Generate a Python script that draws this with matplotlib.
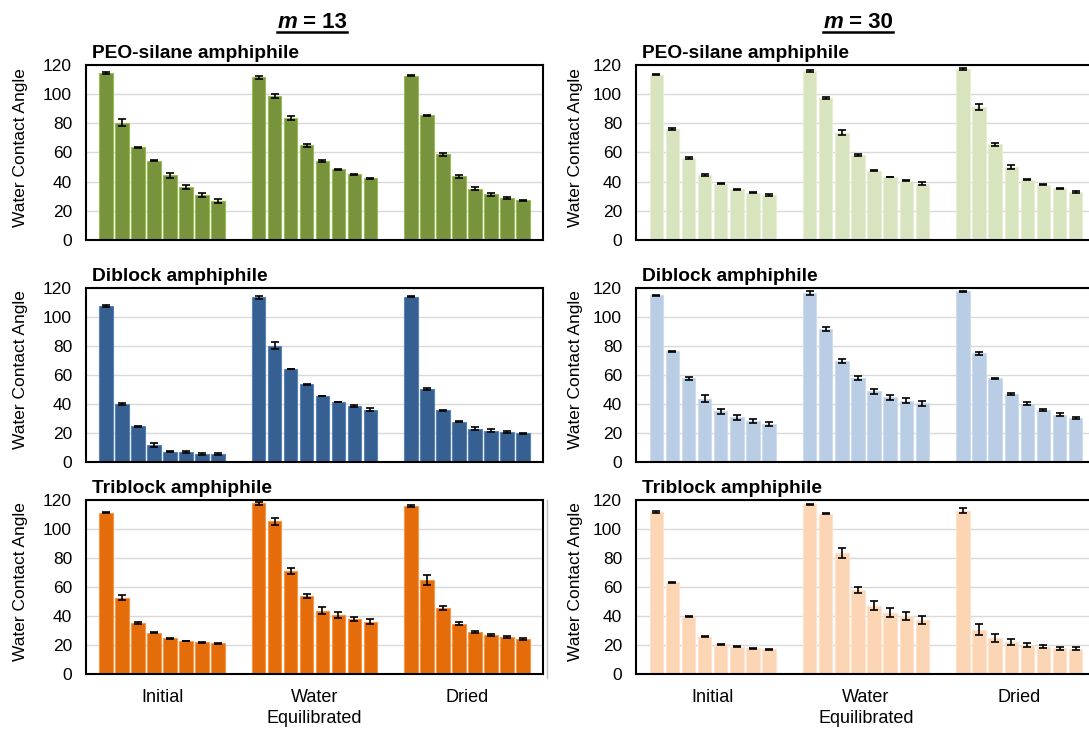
import numpy as np
import matplotlib.pyplot as plt
from matplotlib.lines import Line2D

plt.rcParams['font.family'] = ['Liberation Sans', 'DejaVu Sans']

stages = ['Initial', 'Water\nEquilibrated', 'Dried']

# contact angles, one list of 8 samples per stage (Initial, Water Equilibrated, Dried)
peo_13 = [[114.4, 80.5, 63.5, 54.4, 44.3, 36.5, 31.0, 26.8],
          [111.5, 98.6, 83.7, 64.9, 54.1, 48.4, 45.0, 42.2],
          [112.8, 85.6, 58.7, 43.8, 35.1, 31.2, 28.9, 27.1]]
peo_13_err = [[0.8, 2.5, 0.4, 0.4, 1.5, 1.3, 1.5, 1.5],
              [1.0, 1.5, 1.5, 1.0, 0.5, 0.6, 0.5, 0.4],
              [0.5, 0.3, 1.2, 1.0, 1.0, 0.8, 0.7, 0.5]]

di_13 = [[107.6, 40.0, 24.5, 11.7, 7.1, 6.9, 5.5, 5.3],
         [113.5, 80.3, 64.1, 53.5, 45.5, 41.4, 38.4, 35.9],
         [114.0, 50.4, 35.7, 27.9, 23.1, 21.5, 20.6, 19.7]]
di_13_err = [[1.0, 0.8, 0.6, 1.2, 0.4, 0.5, 1.0, 0.6],
             [1.3, 2.5, 0.3, 0.3, 0.3, 0.3, 0.6, 1.0],
             [0.3, 0.8, 0.5, 0.6, 0.9, 1.0, 0.6, 0.6]]

tri_13 = [[111.1, 52.7, 35.5, 28.4, 24.5, 22.7, 21.8, 21.1],
          [117.7, 105.3, 71.0, 53.8, 43.7, 40.5, 37.8, 36.0],
          [115.9, 64.8, 45.6, 34.6, 29.1, 26.8, 25.6, 24.3]]
tri_13_err = [[0.3, 1.5, 0.7, 0.3, 0.3, 0.2, 0.2, 0.2],
              [1.2, 2.2, 2.3, 1.5, 2.3, 2.2, 1.5, 1.7],
              [0.8, 3.5, 1.5, 1.0, 0.7, 0.9, 0.7, 0.7]]

peo_30 = [[113.4, 75.9, 56.2, 44.6, 38.6, 34.7, 32.5, 30.9],
          [115.9, 97.4, 73.6, 58.3, 47.5, 43.2, 40.7, 38.6],
          [117.3, 91.2, 65.8, 50.1, 41.4, 37.9, 35.4, 33.1]]
peo_30_err = [[0.6, 0.6, 0.6, 0.8, 0.5, 0.3, 0.3, 0.4],
              [0.5, 0.9, 1.8, 0.7, 0.5, 0.3, 0.4, 0.9],
              [0.4, 2.0, 1.0, 1.3, 0.4, 0.5, 0.4, 0.8]]

di_30 = [[114.9, 76.5, 57.6, 43.6, 35.0, 30.7, 28.4, 26.0],
         [116.7, 91.9, 69.8, 57.8, 48.8, 44.7, 42.4, 40.6],
         [117.8, 74.9, 57.6, 47.0, 40.2, 35.9, 32.7, 30.5]]
di_30_err = [[0.3, 0.3, 0.8, 2.5, 1.6, 1.6, 1.5, 1.4],
             [1.2, 1.3, 1.3, 1.2, 1.8, 1.6, 1.8, 1.8],
             [0.3, 0.8, 0.6, 0.7, 0.9, 0.9, 1.0, 0.8]]

tri_30 = [[112.0, 63.3, 39.5, 25.6, 20.4, 18.8, 17.7, 17.0],
          [117.1, 110.5, 83.5, 58.1, 47.2, 42.4, 39.7, 37.4],
          [112.7, 30.6, 25.0, 21.8, 20.0, 18.8, 17.7, 17.5]]
tri_30_err = [[0.7, 0.4, 0.3, 0.4, 0.5, 0.5, 0.5, 0.5],
              [0.3, 0.4, 3.3, 2.0, 3.0, 2.8, 2.8, 2.6],
              [2.0, 4.0, 2.8, 2.0, 1.2, 1.0, 1.2, 1.0]]

titles = ['PEO-silane amphiphile', 'Diblock amphiphile', 'Triblock amphiphile']
colors_13 = [('#77933C', '#9BBB59'), ('#376092', '#5B82B5'), ('#E46C0A', '#F79646')]
colors_30 = [('#D7E4BD', '#E6EED5'), ('#B9CDE5', '#CEDCEE'), ('#FCD5B5', '#FDE3CE')]

W, H = 1089, 732
fig = plt.figure(figsize=(W / 100, H / 100), dpi=100)

rows = [(65, 240), (288, 462), (500, 674)]
cols = [(86, 457, -0.127), (636, 460, -0.115)]
data = [[(peo_13, peo_13_err), (di_13, di_13_err), (tri_13, tri_13_err)],
        [(peo_30, peo_30_err), (di_30, di_30_err), (tri_30, tri_30_err)]]
palettes = [colors_13, colors_30]

offsets = (np.arange(8) - 3.5) * 0.105
for c, (x0, w, lab_x) in enumerate(cols):
    for r, (y0, y1) in enumerate(rows):
        ax = fig.add_axes([x0 / W, 1 - y1 / H, w / W, (y1 - y0) / H])
        vals, errs = data[c][r]
        face, edge = palettes[c][r]
        for g in range(3):
            ax.bar(g + offsets, vals[g], 0.088, yerr=errs[g], color=face,
                   edgecolor=edge, linewidth=0.8, zorder=2,
                   error_kw=dict(ecolor='black', elinewidth=1.2,
                                 capsize=3, capthick=1.2))
        ax.set_xlim(-0.5, 2.5)
        ax.set_ylim(0, 120)
        ax.set_yticks(range(0, 121, 20))
        ax.yaxis.grid(True, color='#D9D9D9', linewidth=1)
        ax.set_axisbelow(True)
        for s in ax.spines.values():
            s.set_linewidth(1.5)
            s.set_color('black')
        ax.tick_params(axis='y', length=0, labelsize=12.5, pad=10)
        ax.tick_params(axis='x', length=0, labelsize=13, pad=11)
        ax.set_xticks(range(3))
        if r == 2:
            ax.set_xticklabels(stages, linespacing=1.3)
        else:
            ax.set_xticklabels([])
        ax.set_ylabel('Water Contact Angle', fontsize=12.5)
        ax.yaxis.set_label_coords(lab_x, 0.53)
        ax.text(0.013, 1.02, titles[r], transform=ax.transAxes,
                fontsize=13.8, fontweight='bold', va='bottom', ha='left')

# thin border line left of the lower right panel
fig.add_artist(Line2D([547 / W, 547 / W], [1 - 678 / H, 1 - 500 / H],
                      color='#BFBFBF', linewidth=1))

# column headers: bold italic m, underlined
fig.canvas.draw()
renderer = fig.canvas.get_renderer()
for xc, num in [(312, '13'), (858, '30')]:
    yb = 1 - 28 / H
    t1 = fig.text(0, yb, 'm', fontsize=16, fontweight='bold', style='italic', va='baseline')
    t2 = fig.text(0, yb, ' = ' + num, fontsize=16, fontweight='bold', va='baseline')
    w1 = t1.get_window_extent(renderer).width
    w2 = t2.get_window_extent(renderer).width
    xs = xc - (w1 + w2) / 2
    t1.set_x(xs / W)
    t2.set_x((xs + w1) / W)
    yu = 1 - 32 / H
    fig.add_artist(Line2D([xs / W, (xs + w1 + w2) / W], [yu, yu],
                          color='black', linewidth=1.8))

fig.savefig('out.png', dpi=100)
